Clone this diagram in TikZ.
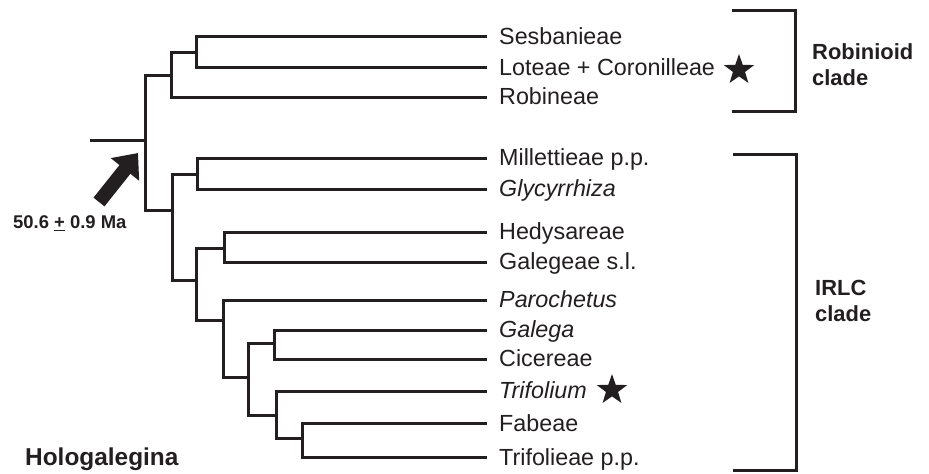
\documentclass[tikz,border=0pt]{standalone}
\usepackage{fontspec}
\setmainfont{Liberation Sans}
\usetikzlibrary{shapes.geometric,arrows.meta}
\definecolor{ink}{HTML}{231F20}
\begin{document}
\begin{tikzpicture}[x=1bp,y=-1bp,
  branch/.style={draw=ink,line width=3bp,line join=miter},
  leaf/.style={anchor=base west,inner sep=0pt,text=ink,font=\fontsize{23.4}{28}\selectfont},
  cladelabel/.style={anchor=base west,inner sep=0pt,text=ink,font=\fontsize{22}{26}\selectfont\bfseries},
  starmark/.style={star,star points=5,star point ratio=2.5,fill=ink,draw=none,inner sep=0pt,minimum size=32pt}]
\useasboundingbox[fill=white] (0,0) rectangle (929,474);

% internal nodes
\coordinate (stem) at (90,140.5);
\coordinate (root) at (145.5,140.5);
\coordinate (a) at (171.5,75.5);
\coordinate (b) at (196.5,52.5);
\coordinate (c) at (172.5,210.5);
\coordinate (d) at (197.5,174.5);
\coordinate (e) at (196.5,280.5);
\coordinate (f) at (224.5,248.5);
\coordinate (g) at (223.5,320.5);
\coordinate (h) at (248.5,377.5);
\coordinate (i) at (274.5,343.5);
\coordinate (j) at (276.5,415.5);
\coordinate (k) at (302.5,438.5);

% leaf tips
\coordinate (eS) at (487,36.5);
\coordinate (eL) at (487,67.5);
\coordinate (eR) at (487,97.5);
\coordinate (eM) at (487,158.5);
\coordinate (eGy) at (487,189.5);
\coordinate (eH) at (487,232.5);
\coordinate (eGs) at (487,262.5);
\coordinate (eP) at (487,300.5);
\coordinate (eGa) at (487,330.5);
\coordinate (eC) at (487,359.5);
\coordinate (eT) at (487,391.5);
\coordinate (eF) at (487,423.5);
\coordinate (eTp) at (487,457.5);

% leaf labels
\node[leaf] (tS) at (499,44.5) {Sesbanieae};
\node[leaf] (tL) at (499,75.5) {Loteae + Coronilleae};
\node[leaf] (tR) at (499,105) {Robineae};
\node[leaf] (tM) at (499,166) {Millettieae p.p.};
\node[leaf] (tGy) at (499,196.5) {\itshape Glycyrrhiza};
\node[leaf] (tH) at (499,240) {Hedysareae};
\node[leaf] (tGs) at (499,269.5) {Galegeae s.l.};
\node[leaf] (tP) at (499,307.5) {\itshape Parochetus};
\node[leaf] (tGa) at (499,337.5) {\itshape Galega};
\node[leaf] (tC) at (499,366.5) {Cicereae};
\node[leaf] (tT) at (499,398.5) {\itshape Trifolium};
\node[leaf] (tF) at (499,431) {Fabeae};
\node[leaf] (tTp) at (499,465) {Trifolieae p.p.};

% tree
\draw[branch] (stem) -- (root);
\draw[branch] (root) |- (a);
\draw[branch] (root) |- (c);
\draw[branch] (a) |- (b);
\draw[branch] (a) |- (eR);
\draw[branch] (b) |- (eS);
\draw[branch] (b) |- (eL);
\draw[branch] (c) |- (d);
\draw[branch] (c) |- (e);
\draw[branch] (d) |- (eM);
\draw[branch] (d) |- (eGy);
\draw[branch] (e) |- (f);
\draw[branch] (e) |- (g);
\draw[branch] (f) |- (eH);
\draw[branch] (f) |- (eGs);
\draw[branch] (g) |- (eP);
\draw[branch] (g) |- (h);
\draw[branch] (h) |- (i);
\draw[branch] (h) |- (j);
\draw[branch] (i) |- (eGa);
\draw[branch] (i) |- (eC);
\draw[branch] (j) |- (eT);
\draw[branch] (j) |- (k);
\draw[branch] (k) |- (eF);
\draw[branch] (k) |- (eTp);

% stars
\node[starmark] (s1) at (739,70) {};
\node[starmark] (s2) at (612,390) {};

% brackets
\coordinate (rb1) at (732,10.5);
\coordinate (rb2) at (795.5,10.5);
\coordinate (rb3) at (795.5,111.5);
\coordinate (rb4) at (732,111.5);
\draw[branch] (rb1) -- (rb2) -- (rb3) -- (rb4);
\coordinate (ib1) at (733,154.5);
\coordinate (ib2) at (796.5,154.5);
\coordinate (ib3) at (796.5,470.5);
\coordinate (ib4) at (733,470.5);
\draw[branch] (ib1) -- (ib2) -- (ib3) -- (ib4);

\node[cladelabel] (rob1) at (812,59.5) {Robinioid};
\node[cladelabel] (rob2) at (812,86) {clade};
\node[cladelabel] (irl1) at (815,296) {IRLC};
\node[cladelabel] (irl2) at (815,322) {clade};

% arrow
\coordinate (atail) at (99,202);
\coordinate (atip) at (138,153);
\draw[ink,line width=14bp,-{Triangle[width=35bp,length=21bp]}] (atail) -- (atip);
\node[anchor=base west,inner sep=0pt,text=ink,font=\fontsize{18.5}{22}\selectfont\bfseries] (age) at (13,229) {50.6 \underline{+} 0.9 Ma};

\node[anchor=base west,inner sep=0pt,text=ink,font=\fontsize{24.5}{29}\selectfont\bfseries] (holo) at (25,465) {Hologalegina};
\end{tikzpicture}
\end{document}
